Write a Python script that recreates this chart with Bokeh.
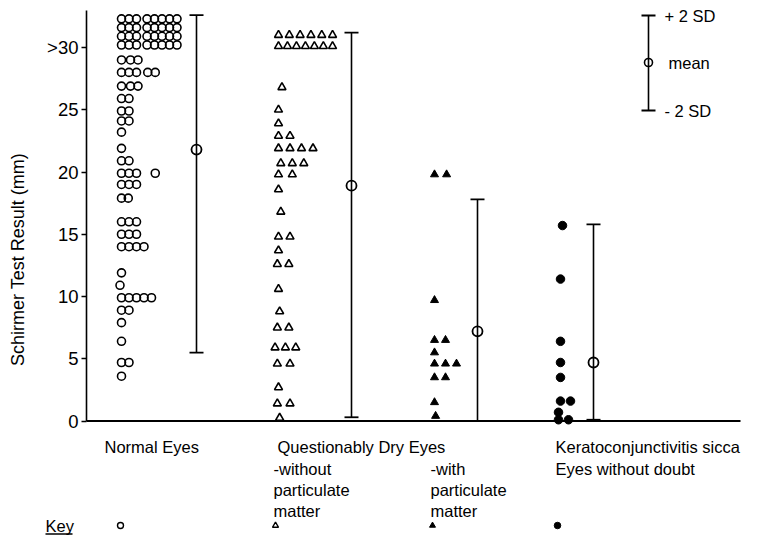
from bokeh.plotting import figure
from bokeh.models import Range1d, FixedTicker
from bokeh.core.properties import value
from bokeh.embed import file_html
from bokeh.resources import INLINE

FONT = "Liberation Sans"

# ---------------- data (Schirmer test result, mm) ----------------
# each row: (value, stacking slots across the row)
normal_rows = [
    (32.3, [0, 1, 2, 3.4, 4.4, 5.4, 6.4, 7.4]),
    (31.6, [0, 1, 2, 3.4, 4.4, 5.4, 6.4, 7.4]),
    (30.9, [0, 1, 2, 3.4, 4.4, 5.4, 6.4, 7.4]),
    (30.2, [0, 1, 2, 3.4, 4.4, 5.4, 6.4, 7.4]),
    (29.0, [0, 1.2, 2.2]),
    (28.0, [0, 1, 2, 3.5, 4.5]),
    (26.9, [0, 1.2, 2.2]),
    (25.9, [0, 1]),
    (24.9, [0, 1]),
    (24.1, [0, 1]),
    (23.2, [0]),
    (21.9, [0]),
    (20.9, [0, 1]),
    (19.9, [0, 1, 2, 4.5]),
    (19.0, [0, 1, 2]),
    (17.9, [0, 0.9]),
    (16.0, [0, 1, 2]),
    (15.0, [0, 1, 2]),
    (14.0, [0, 1, 2, 3]),
    (11.9, [0]),
    (10.9, [-0.2]),
    (9.9, [0, 1, 2, 3, 4]),
    (8.9, [0, 1]),
    (7.9, [0]),
    (6.4, [0]),
    (4.7, [0, 1]),
    (3.6, [0]),
]
qde_without_rows = [
    (31.0, [0, 0.94, 1.88, 2.82, 3.76, 4.7]),
    (30.1, [0, 0.78, 1.56, 2.34, 3.12, 3.9, 4.7]),
    (26.8, [0.3]),
    (25.0, [0]),
    (23.9, [0]),
    (22.9, [0, 1]),
    (21.9, [0, 1, 2, 3]),
    (20.7, [0.2, 1.2, 2.2]),
    (19.8, [0, 1.2]),
    (18.6, [0]),
    (16.8, [0.2]),
    (14.8, [0, 1]),
    (13.7, [0]),
    (12.6, [-0.1, 0.9]),
    (10.6, [0]),
    (8.8, [0.1]),
    (7.5, [-0.1, 0.9]),
    (5.9, [-0.3, 0.6, 1.5]),
    (4.6, [-0.1, 1]),
    (2.7, [0]),
    (1.4, [-0.1, 1]),
    (0.25, [0.1]),
]
qde_with_rows = [
    (19.8, [0, 1.1]),
    (9.7, [0]),
    (6.5, [0, 1]),
    (5.5, [0]),
    (4.6, [0, 1, 2]),
    (3.5, [0, 1]),
    (1.5, [0]),
    (0.4, [0.1]),
]
kcs_rows = [
    (15.7, [0.2]),
    (11.4, [0]),
    (6.4, [0]),
    (4.7, [0]),
    (3.5, [0]),
    (1.6, [0, 1]),
    (0.7, [-0.2]),
    (0.1, [-0.2, 0.8]),
]

# mean and +/- 2 SD per group
group_means = [21.8, 18.9, 7.2, 4.7]
group_lo = [5.5, 0.3, 0.0, 0.1]
group_hi = [32.6, 31.2, 17.8, 15.8]

y_ticks = [0, 5, 10, 15, 20, 25, 30]
y_tick_labels = {30: ">30"}

category_lines = [
    ("Normal Eyes", 0, 0),
    ("Questionably Dry Eyes", 1, 0),
    ("-without", 1, 1), ("particulate", 1, 2), ("matter", 1, 3),
    ("-with", 2, 1), ("particulate", 2, 2), ("matter", 2, 3),
    ("Keratoconjunctivitis sicca", 3, 0),
    ("Eyes without doubt", 3, 1),
]

# ---------------- layout ----------------
PX = 12.45          # px per mm on the y axis
Y0 = 420.5          # canvas y of zero
W = 748
H_MAIN, H_KEY = 518, 17
LEFT = 86
def yv(py):         # canvas pixel y -> data value (layout only)
    return (Y0 - py) / PX

dot_base = [35, 192, 348, 474]     # x of first marker column per group
dot_step = [7.5, 11.5, 11.0, 10.0]
bar_x = [110, 265, 391, 507]
label_x = [18, 191, 344, 469]
line_py = [446, 468, 489.5, 510]
key_px = [120, 275, 432, 557]
CAP = 7

p = figure(width=W, height=H_MAIN, output_backend="svg", toolbar_location=None,
           x_axis_location=None, min_border_left=LEFT, min_border_right=0,
           min_border_top=0, min_border_bottom=0,
           x_range=Range1d(0, W - LEFT), y_range=Range1d(yv(H_MAIN), yv(0)))
p.outline_line_color = None
p.grid.visible = False

ax = p.yaxis[0]
ax.bounds = (0, 33)
ax.ticker = FixedTicker(ticks=y_ticks)
ax.major_label_overrides = y_tick_labels
ax.axis_label = "Schirmer Test Result (mm)"
ax.axis_label_text_font = FONT
ax.axis_label_text_font_style = "normal"
ax.axis_label_text_font_size = "18px"
ax.axis_label_text_color = "black"
ax.axis_label_standoff = 16
ax.major_label_text_font = FONT
ax.major_label_text_font_size = "18.5px"
ax.major_label_text_color = "black"
ax.major_label_standoff = 3
ax.major_tick_in = 0
ax.major_tick_out = 5
ax.major_tick_line_width = 1.5
ax.minor_tick_line_color = None
ax.axis_line_width = 1.6
ax.axis_line_color = "black"

# baseline (x axis line)
p.segment(x0=[0], y0=[0], x1=[654], y1=[0], line_color="black", line_width=2)

def expand(rows, g):
    xs, ys = [], []
    for v, slots in rows:
        for s in slots:
            xs.append(dot_base[g] + s * dot_step[g])
            ys.append(v)
    return xs, ys

x, y = expand(normal_rows, 0)
p.scatter(x, y, marker="circle", size=8, fill_color=None, line_color="black", line_width=1.6)
x, y = expand(qde_without_rows, 1)
p.scatter(x, y, marker="triangle", size=8, fill_color=None, line_color="black", line_width=1.6)
x, y = expand(qde_with_rows, 2)
p.scatter(x, y, marker="triangle", size=8, fill_color="black", line_color="black", line_width=1)
x, y = expand(kcs_rows, 3)
p.scatter(x, y, marker="circle", size=8.5, fill_color="black", line_color="black", line_width=1)

# mean +/- 2SD bars
p.segment(x0=bar_x, y0=group_lo, x1=bar_x, y1=group_hi, line_color="black", line_width=1.6)
p.segment(x0=[b - CAP for b in bar_x], y0=group_hi, x1=[b + CAP for b in bar_x], y1=group_hi,
          line_color="black", line_width=1.8)
p.segment(x0=[b - CAP for b in bar_x], y0=group_lo, x1=[b + CAP for b in bar_x], y1=group_lo,
          line_color="black", line_width=1.8)
p.scatter(bar_x, group_means, marker="circle", size=10, fill_color=None, line_color="black", line_width=1.8)

# key for the bars (top right)
kx = 562
k_hi, k_mean, k_lo = yv(15), yv(62), yv(110)
p.segment(x0=[kx], y0=[k_lo], x1=[kx], y1=[k_hi], line_color="black", line_width=1.6)
p.segment(x0=[kx - CAP, kx - CAP], y0=[k_hi, k_lo], x1=[kx + CAP, kx + CAP], y1=[k_hi, k_lo],
          line_color="black", line_width=1.8)
p.scatter([kx], [k_mean], marker="circle", size=8, fill_color=None, line_color="black", line_width=1.6)
p.text(x=[kx + 16, kx + 20, kx + 16], y=[k_hi, k_mean, k_lo], text=["+ 2 SD", "mean", "- 2 SD"],
       text_font=value(FONT), text_font_size="16.5px", text_baseline="middle", text_align="left",
       text_color="black")

# category labels under the axis
cx = [label_x[g] for _, g, _ in category_lines]
cx[2:5] = [label_x[1] - 4] * 3
cy = [yv(line_py[r]) for _, _, r in category_lines]
p.text(x=cx, y=cy, text=[t for t, _, _ in category_lines], text_font=value(FONT),
       text_font_size="16.5px", text_baseline="middle", text_align="left", text_color="black")

# ---------------- symbol key row (own strip, full width) ----------------
k = figure(width=W, height=H_KEY, output_backend="svg", toolbar_location=None,
           x_axis_location=None, y_axis_location=None,
           min_border_left=0, min_border_right=0, min_border_top=0, min_border_bottom=0,
           x_range=Range1d(0, W), y_range=Range1d(H_KEY, 0))
k.outline_line_color = None
k.grid.visible = False
ky = 7
k.text(x=[45], y=[ky], text=["Key"], text_font=value(FONT), text_font_size="16.5px",
       text_baseline="middle", text_align="left", text_color="black")
k.segment(x0=[45], y0=[15.5], x1=[72], y1=[15.5], line_color="black", line_width=1.3)
k.scatter([key_px[0]], [ky], marker="circle", size=6, fill_color=None, line_color="black", line_width=1.4)
k.scatter([key_px[1]], [ky], marker="triangle", size=6, fill_color=None, line_color="black", line_width=1.4)
k.scatter([key_px[2]], [ky], marker="triangle", size=6, fill_color="black", line_color="black")
k.scatter([key_px[3]], [ky], marker="circle", size=6.5, fill_color="black", line_color="black")

# two independent roots, stacked on the page
open("out.html", "w").write(file_html([p, k], INLINE))
